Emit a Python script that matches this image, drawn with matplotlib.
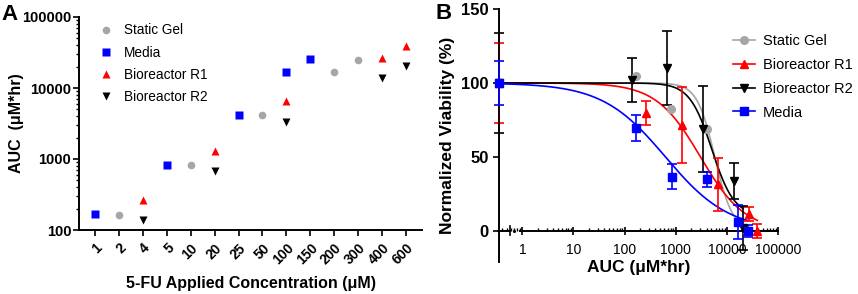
import numpy as np
import matplotlib.pyplot as plt
from matplotlib.ticker import LogLocator, NullFormatter, FixedLocator, FuncFormatter

plt.rcParams['font.family'] = ['Liberation Sans', 'DejaVu Sans']

# panel A: AUC per applied concentration
conc_labels = ['1', '2', '4', '5', '10', '20', '25', '50', '100', '150', '200', '300', '400', '600']

gel_conc = ['2', '10', '50', '200', '300']
gel_auc = [164, 820, 4150, 16600, 24600]
media_conc = ['1', '5', '25', '100', '150']
media_auc = [168, 832, 4170, 16800, 25400]
r1_conc = ['4', '20', '100', '400', '600']
r1_auc = [264, 1310, 6630, 26500, 39400]
r2_conc = ['4', '20', '100', '400', '600']
r2_auc = [138, 678, 3350, 13700, 20600]

# panel B: viability (first value = untreated control), error
gel_via = [100, 104.5, 82.4, 69, 6, 0]
media_via = [100, 69.6, 36.7, 35, 6.3, 0.2]
media_err = [15, 9, 8.5, 5, 11.5, 4]
r1_via = [100, 79.5, 71.6, 31.5, 11.5, 0]
r1_err = [27, 8, 25.5, 18, 5, 5]
r2_via = [100, 102, 110, 68.7, 33.8, 2]
r2_err = [34, 15, 25, 29, 12, 15]

# dose-response fits: bottom, ic50, hill (top = 100)
gel_fit = [0, 5800, 2.5]
media_fit = [0, 630, 0.7]
r1_fit = [0, 3050, 1.0]
r2_fit = [10, 5100, 2.0]

GRAY = '#a6a6a6'
BLUE = '#0000ff'
RED = '#ff0000'
BLACK = '#000000'

fig = plt.figure(figsize=(8.58, 2.94), dpi=100)

# ---------------- panel A ----------------
axA = fig.add_axes([79/858, 1-230/294, 343/858, 213/294])
pos = {c: i for i, c in enumerate(conc_labels)}

axA.plot([pos[c] for c in gel_conc], gel_auc, 'o', color=GRAY, ms=5.5, mec='none', label='Static Gel')
axA.plot([pos[c] for c in media_conc], media_auc, 's', color=BLUE, ms=5.5, mec='none', label='Media')
axA.plot([pos[c] for c in r1_conc], r1_auc, '^', color=RED, ms=5.5, mec='none', label='Bioreactor R1')
axA.plot([pos[c] for c in r2_conc], r2_auc, 'v', color=BLACK, ms=5.5, mec='none', label='Bioreactor R2')

axA.set_yscale('log')
axA.set_ylim(100, 100000)
axA.set_xlim(-0.67, 13.67)
axA.set_xticks(range(len(conc_labels)))
axA.set_xticklabels(conc_labels, rotation=45, ha='right', rotation_mode='anchor',
                    fontsize=10, fontweight='bold')
axA.yaxis.set_major_locator(LogLocator(base=10, numticks=10))
axA.yaxis.set_minor_locator(LogLocator(base=10, subs=np.arange(2, 10), numticks=10))
axA.yaxis.set_minor_formatter(NullFormatter())
axA.yaxis.set_major_formatter(FuncFormatter(lambda v, p: '%d' % v))
for t in axA.get_yticklabels():
    t.set_fontweight('bold')
    t.set_fontsize(10.5)
axA.tick_params(axis='both', width=1.2, length=4, direction='out')
axA.tick_params(axis='y', which='minor', width=1, length=2.5)
axA.tick_params(axis='y', pad=1.5)
axA.tick_params(axis='x', pad=4)
for s in ['top', 'right']:
    axA.spines[s].set_visible(False)
for s in ['left', 'bottom']:
    axA.spines[s].set_linewidth(1.4)
axA.set_xlabel('5-FU Applied Concentration (\u03bcM)', fontsize=11.5, fontweight='bold', labelpad=6)
axA.set_ylabel('AUC  (\u03bcM*hr)', fontsize=11.5, fontweight='bold')
axA.yaxis.set_label_coords(-0.16, 0.5)
axA.legend(loc='upper left', bbox_to_anchor=(0.059, 0.97), frameon=False, fontsize=9.8,
           handlelength=1, handletextpad=0.8, labelspacing=0.6, borderpad=0, borderaxespad=0)

# ---------------- panel B ----------------
axB = fig.add_axes([499/858, 1-262/294, 279/858, 253/294])
x_ctrl = 0.35

def hill(x, fit):
    b, c, h = fit
    return b + (100 - b) / (1 + (x / c) ** h)

series = [
    ('Static Gel', GRAY, 'o', gel_auc, gel_via, None, gel_fit),
    ('Bioreactor R1', RED, '^', r1_auc, r1_via, r1_err, r1_fit),
    ('Bioreactor R2', BLACK, 'v', r2_auc, r2_via, r2_err, r2_fit),
    ('Media', BLUE, 's', media_auc, media_via, media_err, media_fit),
]

handles = []
for name, col, mk, auc, via, err, fit in series:
    xs = np.logspace(np.log10(x_ctrl), np.log10(max(auc)), 300)
    axB.plot(xs, hill(xs, fit), color=col, lw=1.2, zorder=2)
    xp = [x_ctrl] + list(auc)
    axB.errorbar(xp, via, yerr=err, fmt=mk, color=col, ms=5.5, mec=col, ecolor=col,
                 elinewidth=1.2, capsize=3.5, capthick=1.2, clip_on=False, zorder=3)
    h, = axB.plot([], [], color=col, marker=mk, ms=5.5, lw=1.2)
    handles.append(h)

axB.set_xscale('log')
axB.set_xlim(x_ctrl, 1e5)
axB.set_ylim(-21, 150)
axB.set_yticks([0, 50, 100, 150])
axB.xaxis.set_major_locator(FixedLocator([1, 10, 100, 1000, 10000, 100000]))
axB.xaxis.set_major_formatter(FuncFormatter(lambda v, p: '%d' % v))
axB.xaxis.set_minor_locator(LogLocator(base=10, subs=np.arange(2, 10), numticks=12))
axB.xaxis.set_minor_formatter(NullFormatter())
for t in axB.get_yticklabels():
    t.set_fontweight('bold')
    t.set_fontsize(12)
for t in axB.get_xticklabels():
    t.set_fontweight('bold')
    t.set_fontsize(11.5)
axB.spines['top'].set_visible(False)
axB.spines['right'].set_visible(False)
axB.spines['left'].set_linewidth(1.4)
axB.spines['bottom'].set_position(('data', 0))
axB.spines['bottom'].set_bounds(0.9, 1e5)
axB.spines['bottom'].set_linewidth(1.4)
axB.tick_params(axis='y', width=1.2, length=4, direction='out')
axB.tick_params(axis='x', which='major', width=1.2, length=6, direction='inout', pad=6)
axB.tick_params(axis='x', which='minor', width=1, length=2.5, direction='in')
# axis break segment near the control
axB.plot([x_ctrl, 0.58], [0, 0], color='black', lw=1.4, clip_on=False, zorder=1)
axB.plot([0.58, 0.58], [-3, 3], color='black', lw=1.2, clip_on=False, zorder=1)
axB.plot([0.70], [0], 'o', color='black', ms=1.2, clip_on=False)
axB.plot([0.33, x_ctrl], [0, 0], color='black', lw=1.2, clip_on=False)

axB.set_xlabel('AUC (\u03bcM*hr)', fontsize=12.5, fontweight='bold', labelpad=2)
axB.set_ylabel('Normalized Viability (%)', fontsize=12.5, fontweight='bold', labelpad=4)
axB.legend(handles, [s[0] for s in series], loc='upper left', bbox_to_anchor=(0.839, 0.902),
           frameon=False, fontsize=10.5, handlelength=1.5, handletextpad=0.55,
           labelspacing=0.68, borderpad=0, borderaxespad=0)

fig.text(0.002, 0.985, 'A', fontsize=16, fontweight='bold', va='top')
fig.text(0.508, 0.99, 'B', fontsize=16, fontweight='bold', va='top')

fig.savefig('out.png', dpi=100)
